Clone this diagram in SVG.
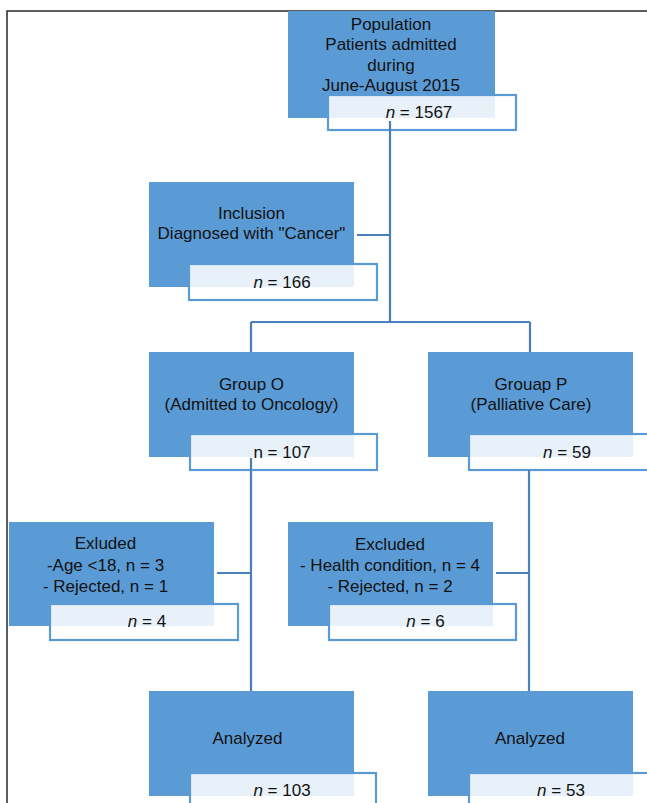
<svg xmlns="http://www.w3.org/2000/svg" width="647" height="803" viewBox="0 0 647 803">
<style>
.frame{fill:none;stroke:#1a1a1a;stroke-width:1.4}
.box{fill:#5b9bd5}
.nbox{fill:#ffffff;fill-opacity:0.86;stroke:#5b9bd5;stroke-width:2.2}
.t{font-family:"Liberation Sans",Arial,sans-serif;font-size:17px;fill:#111;text-anchor:middle}
.c{fill:none;stroke:#4a7fbd;stroke-width:2.2}
</style>
<rect class="frame" x="7" y="11" width="700" height="900"/>
<g id="population">
<rect class="box" x="288" y="11" width="207" height="107"/>
<rect class="nbox" x="328" y="95" width="188" height="35"/>
<text class="t" x="391" y="29.5">Population</text>
<text class="t" x="391" y="50">Patients admitted</text>
<text class="t" x="391" y="70.5">during</text>
<text class="t" x="391" y="91">June-August 2015</text>
<text class="t" x="419" y="118"><tspan font-style="italic">n</tspan> = 1567</text>
</g>
<g id="inclusion">
<rect class="box" x="149" y="182" width="205" height="105"/>
<rect class="nbox" x="189" y="264" width="188" height="36"/>
<text class="t" x="251.5" y="219">Inclusion</text>
<text class="t" x="251.5" y="238.5">Diagnosed with "Cancer"</text>
<text class="t" x="282" y="287.5"><tspan font-style="italic">n</tspan> = 166</text>
</g>
<g id="groupO">
<rect class="box" x="149" y="352" width="205" height="105"/>
<rect class="nbox" x="190" y="434" width="187" height="36"/>
<text class="t" x="251.5" y="390">Group O</text>
<text class="t" x="251.5" y="409.5">(Admitted to Oncology)</text>
<text class="t" x="282" y="457.5">n = 107</text>
</g>
<g id="groupP">
<rect class="box" x="428" y="352" width="205" height="105"/>
<rect class="nbox" x="469" y="434" width="187" height="36"/>
<text class="t" x="531" y="390">Grouap P</text>
<text class="t" x="531" y="409.5">(Palliative Care)</text>
<text class="t" x="567" y="457.5"><tspan font-style="italic">n</tspan> = 59</text>
</g>
<g id="excluded1">
<rect class="box" x="9" y="522" width="205" height="104"/>
<rect class="nbox" x="50" y="604" width="188" height="36"/>
<text class="t" x="105.5" y="549">Exluded</text>
<text class="t" x="105.5" y="570.5">-Age &lt;18, n = 3</text>
<text class="t" x="105.5" y="591.5">- Rejected, n = 1</text>
<text class="t" x="147" y="627"><tspan font-style="italic">n</tspan> = 4</text>
</g>
<g id="excluded2">
<rect class="box" x="288" y="522" width="205" height="104"/>
<rect class="nbox" x="329" y="604" width="187" height="36"/>
<text class="t" x="390" y="549.5">Excluded</text>
<text class="t" x="390" y="571">- Health condition, n = 4</text>
<text class="t" x="390" y="592">- Rejected, n = 2</text>
<text class="t" x="425.5" y="627"><tspan font-style="italic">n</tspan> = 6</text>
</g>
<g id="analyzedO">
<rect class="box" x="149" y="691" width="205" height="105"/>
<rect class="nbox" x="190" y="773" width="186" height="40"/>
<text class="t" x="247.5" y="743.5">Analyzed</text>
<text class="t" x="282" y="796"><tspan font-style="italic">n</tspan> = 103</text>
</g>
<g id="analyzedP">
<rect class="box" x="428" y="691" width="205" height="105"/>
<rect class="nbox" x="469" y="773" width="187" height="40"/>
<text class="t" x="530" y="743.5">Analyzed</text>
<text class="t" x="561" y="796"><tspan font-style="italic">n</tspan> = 53</text>
</g>
<g id="connectors">
<path class="c" d="M390,121 V322"/>
<path class="c" d="M357,235 H390"/>
<path class="c" d="M251,322 H530"/>
<path class="c" d="M251,322 V352"/>
<path class="c" d="M530,322 V352"/>
<path class="c" d="M251,458 V691"/>
<path class="c" d="M529,470 V691"/>
<path class="c" d="M217,573 H251"/>
<path class="c" d="M496,573 H529"/>
</g>
</svg>
